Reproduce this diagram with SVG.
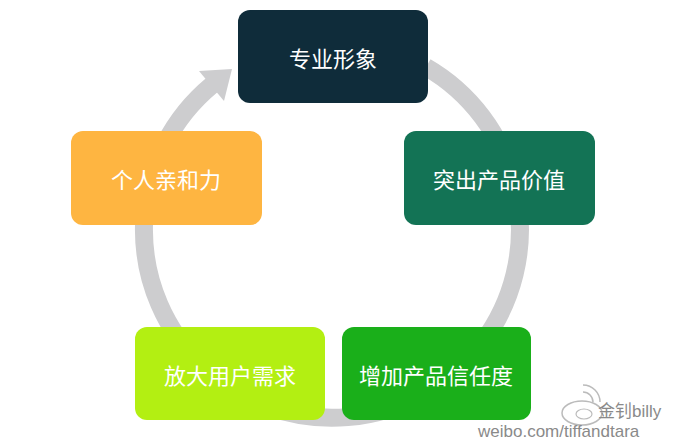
<svg xmlns="http://www.w3.org/2000/svg" width="675" height="446" viewBox="0 0 675 446">
<style>
.t{font-family:"Noto Sans CJK SC","Liberation Sans",sans-serif;font-size:22px;fill:#fff;text-anchor:middle;dominant-baseline:central}
.w{font-family:"Liberation Sans","Noto Sans CJK SC",sans-serif;fill:#8a8a8a}
</style>
<rect width="675" height="446" fill="#fff"/>
<g id="connectors">
<path d="M426,67 A188,188 0 1 1 212,85" fill="none" stroke="#cdcdcf" stroke-width="18"/>
<polygon points="232,69 199,71 224,101" fill="#cdcdcf"/>
</g>
<g id="n1"><rect x="238" y="10" width="190" height="93" rx="12" fill="#0f2c3a"/><text class="t" x="333" y="57">专业形象</text></g>
<g id="n2"><rect x="404" y="131" width="191" height="94" rx="12" fill="#137355"/><text class="t" x="499" y="178">突出产品价值</text></g>
<g id="n3"><rect x="342" y="327" width="189" height="93" rx="12" fill="#1aaf1a"/><text class="t" x="436" y="374">增加产品信任度</text></g>
<g id="n4"><rect x="135" y="327" width="190" height="93" rx="12" fill="#b3ef12"/><text class="t" x="230" y="374">放大用户需求</text></g>
<g id="n5"><rect x="71" y="131" width="191" height="94" rx="12" fill="#feb541"/><text class="t" x="166" y="178">个人亲和力</text></g>
<g id="watermark">
<ellipse cx="582" cy="413" rx="20" ry="12" fill="none" stroke="#bbb" stroke-width="1.5"/>
<ellipse cx="584" cy="414" rx="8" ry="5" fill="none" stroke="#bbb" stroke-width="1.2"/>
<path d="M583,392 a10,10 0 0 1 10,10 M583,385 a17,17 0 0 1 17,17" fill="none" stroke="#bbb" stroke-width="1.5"/>
<text class="w" x="598" y="417" font-size="17">金钊billy</text>
<text class="w" x="478" y="437" font-size="17">weibo.com/tiffandtara</text>
</g>
</svg>
